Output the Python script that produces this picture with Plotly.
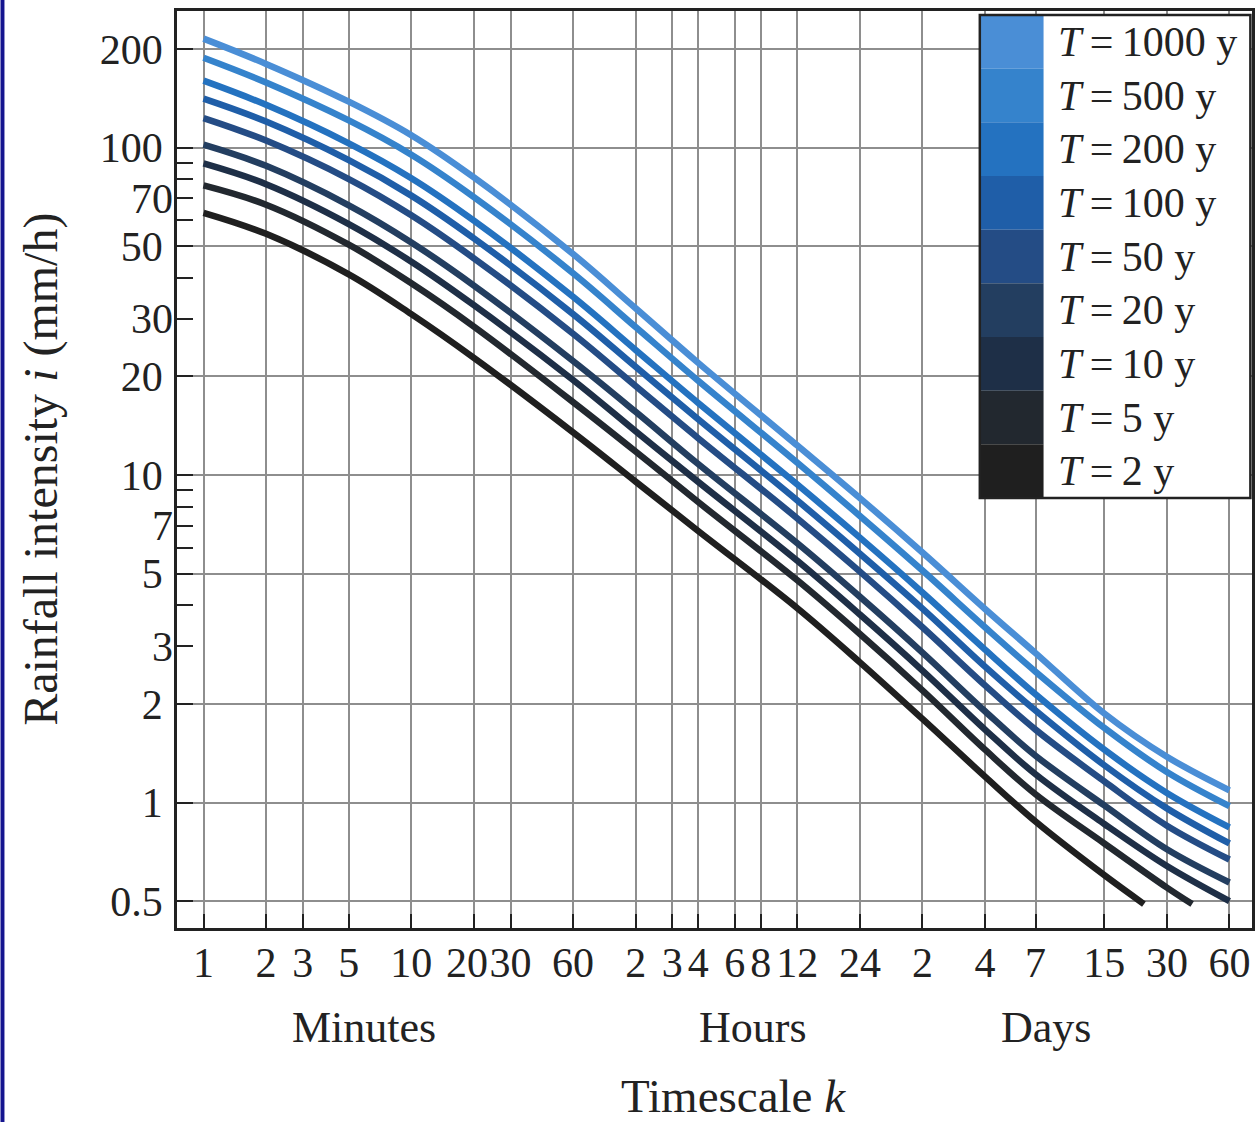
import math
import plotly.graph_objects as go

# ---------------- data ----------------
duration_min = [1, 2, 5, 10, 20, 60, 120, 240, 720, 1440, 2880, 5760,
                10080, 21600, 43200, 86400]

return_periods = [1000, 500, 200, 100, 50, 20, 10, 5, 2]
series_labels = ["<i>T</i>\u2009=\u2009%d y" % t for t in return_periods]
series_colors = ["#4a8ed6", "#3583cc", "#2472c0", "#1f5ea8", "#244c85",
                 "#233e60", "#1e2f47", "#22282f", "#1f1f1f"]
# last duration (minutes) of each curve (curves stop near 0.5 mm/h)
last_duration_min = [86400, 86400, 86400, 86400, 86400, 86400, 86400, 57150, 33500]

i_T1000 = [215, 180, 138, 109, 81, 47.3, 32.3, 22.0, 12.3, 8.5, 5.8, 3.9, 2.86, 1.87, 1.38, 1.09]
i_T500 = [188, 158, 121, 95.1, 70.6, 41.3, 28.3, 19.4, 10.9, 7.5, 5.11, 3.43, 2.51, 1.69, 1.24, 0.975]
i_T200 = [160, 135, 103, 80.6, 59.8, 35.0, 24.1, 16.6, 9.35, 6.44, 4.38, 2.93, 2.14, 1.45, 1.07, 0.84]
i_T100 = [141, 120, 91.5, 71.3, 52.8, 31.0, 21.4, 14.8, 8.36, 5.75, 3.91, 2.60, 1.91, 1.30, 0.96, 0.75]
i_T50 = [123, 105, 80.1, 62.1, 45.9, 27.0, 18.7, 12.96, 7.37, 5.07, 3.43, 2.28, 1.67, 1.16, 0.85, 0.67]
i_T20 = [102, 87.9, 66.6, 51.3, 37.9, 22.3, 15.6, 10.8, 6.19, 4.25, 2.87, 1.90, 1.39, 0.98, 0.72, 0.57]
i_T10 = [89.4, 77.3, 58.4, 44.8, 33.0, 19.5, 13.6, 9.53, 5.47, 3.75, 2.53, 1.67, 1.22, 0.86, 0.64, 0.50]
i_T5 = [76.6, 66.9, 50.5, 38.5, 28.4, 16.7, 11.8, 8.27, 4.77, 3.27, 2.20, 1.45, 1.06, 0.75, 0.55, 0.49]
i_T2 = [63.2, 54.5, 41.0, 31.0, 22.8, 13.5, 9.55, 6.75, 3.92, 2.68, 1.80, 1.20, 0.875, 0.60, 0.49]
intensities = [i_T1000, i_T500, i_T200, i_T100, i_T50, i_T20, i_T10, i_T5, i_T2]

x_tickvals = [1, 2, 3, 5, 10, 20, 30, 60, 120, 180, 240, 360, 480, 720,
              1440, 2880, 5760, 10080, 21600, 43200, 86400]
x_ticktext = ["1", "2", "3", "5", "10", "20", "30", "60", "2", "3", "4", "6",
              "8", "12", "24", "2", "4", "7", "15", "30", "60"]
x_groups = ["Minutes", "Hours", "Days"]
x_group_pos = [0.1744, 0.536, 0.808]

y_major_vals = [0.5, 1, 2, 5, 10, 20, 50, 100, 200]
y_major_text = ["0.5", "1", "2", "5", "10", "20", "50", "100", "200"]
y_extra_vals = [3, 7, 30, 70]
y_extra_text = ["3", "7", "30", "70"]
y_minor_vals = [3, 4, 6, 7, 8, 9, 30, 40, 60, 70, 80, 90]

# ---------------- figure ----------------
FONT = "Liberation Serif"
TXT = "#222222"
GRID = "#8e8e8e"
XR = [-0.1276, 5.045]
YR = [-0.383, 2.4168]
TICK_FS = 42

fig = go.Figure()
for k in range(len(return_periods) - 1, -1, -1):
    vals = intensities[k]
    xs = [d for d in duration_min if d < last_duration_min[k]][:len(vals) - 1] + [last_duration_min[k]]
    fig.add_trace(go.Scatter(
        x=xs, y=vals, mode="lines", name=series_labels[k],
        line=dict(color=series_colors[k], width=6.5, shape="spline", smoothing=1.0),
        showlegend=False))

# empty helper trace for the overlay axis holding the extra tick labels
fig.add_trace(go.Scatter(x=[], y=[], yaxis="y2", showlegend=False, hoverinfo="skip"))

# the "20" label is drawn as a nudged annotation so it does not collide with "30"
shown_ticktext = [("" if t == 20 else s) for t, s in zip(x_tickvals, x_ticktext)]

fig.update_layout(
    width=1258, height=1122,
    margin=dict(l=177, r=3, t=11, b=194),
    plot_bgcolor="white", paper_bgcolor="white",
    font=dict(family=FONT, color=TXT),
    showlegend=False,
    xaxis=dict(type="log", range=XR, tickmode="array", tickvals=x_tickvals,
               ticktext=shown_ticktext, tickangle=0, ticks="inside", ticklen=14,
               tickwidth=2, tickcolor=TXT, showgrid=True, gridcolor=GRID,
               gridwidth=2, showline=True, linecolor=TXT, linewidth=2.5,
               mirror=True, zeroline=False,
               tickfont=dict(size=TICK_FS, family=FONT, color=TXT),
               ticklabelstandoff=-4),
    yaxis=dict(type="log", range=YR, tickmode="array", tickvals=y_major_vals,
               ticktext=y_major_text, ticks="inside", ticklen=16, tickwidth=2,
               tickcolor=TXT, showgrid=True, gridcolor=GRID, gridwidth=2,
               showline=True, linecolor=TXT, linewidth=2.5, mirror=True,
               zeroline=False, tickfont=dict(size=TICK_FS, family=FONT, color=TXT),
               ticklabelstandoff=3,
               minor=dict(tickmode="array", tickvals=y_minor_vals, ticks="inside",
                          ticklen=16, tickwidth=2, tickcolor=TXT, showgrid=False)),
    yaxis2=dict(type="log", range=YR, overlaying="y", anchor="x", side="left",
                tickmode="array", tickvals=y_extra_vals, ticktext=y_extra_text,
                ticks="", showgrid=False, showline=False, zeroline=False,
                tickfont=dict(size=TICK_FS, family=FONT, color=TXT),
                ticklabelstandoff=3),
)

ann = [dict(text="20", x=math.log10(20), xref="x", y=0, yref="paper",
            xshift=-7, yshift=-35, showarrow=False, xanchor="center",
            yanchor="middle", font=dict(size=TICK_FS, family=FONT, color=TXT))]
for name, px in zip(x_groups, x_group_pos):
    ann.append(dict(text=name, x=px, y=-0.108, xref="paper", yref="paper",
                    showarrow=False, xanchor="center", yanchor="middle",
                    font=dict(size=44, family=FONT, color=TXT)))
ann.append(dict(text="Timescale <i>k</i>", x=0.5176, y=-0.1830, xref="paper",
                yref="paper", showarrow=False, xanchor="center", yanchor="middle",
                font=dict(size=47, family=FONT, color=TXT)))
ann.append(dict(text="Rainfall intensity <i>i</i> (mm/h)", x=-0.1271, y=0.5,
                xref="paper", yref="paper", showarrow=False, textangle=-90,
                xanchor="center", yanchor="middle",
                font=dict(size=48, family=FONT, color=TXT)))

# custom legend (swatch column + labels)
LX0, LX1, SWX1 = 0.7468, 0.9985, 0.8061
LYT, LYB = 0.9956, 0.4689
h = (LYT - LYB) / len(return_periods)
shapes = [dict(type="rect", xref="paper", yref="paper", x0=-0.16419, x1=-0.1605,
               y0=-0.2116, y1=1.012, fillcolor="#14148f", line=dict(width=0),
               layer="above"),
          dict(type="rect", xref="paper", yref="paper", x0=LX0, x1=LX1,
               y0=LYB, y1=LYT, fillcolor="white", line=dict(width=0), layer="above")]
for k, (lab, col) in enumerate(zip(series_labels, series_colors)):
    y1 = LYT - k * h
    shapes.append(dict(type="rect", xref="paper", yref="paper", x0=LX0, x1=SWX1,
                       y0=y1 - h, y1=y1, fillcolor=col, line=dict(width=0),
                       layer="above"))
    ann.append(dict(text=lab, x=0.8173, y=y1 - h / 2, xref="paper", yref="paper",
                    showarrow=False, xanchor="left", yanchor="middle",
                    font=dict(size=42, family=FONT, color=TXT)))
shapes.append(dict(type="rect", xref="paper", yref="paper", x0=LX0, x1=LX1,
                   y0=LYB, y1=LYT, fillcolor="rgba(0,0,0,0)",
                   line=dict(color=TXT, width=2.5), layer="above"))

fig.update_layout(annotations=ann, shapes=shapes)

fig.write_html("out.html", config={"displayModeBar": False},
               post_script="document.body.style.margin='0';document.body.style.overflow='hidden';")
